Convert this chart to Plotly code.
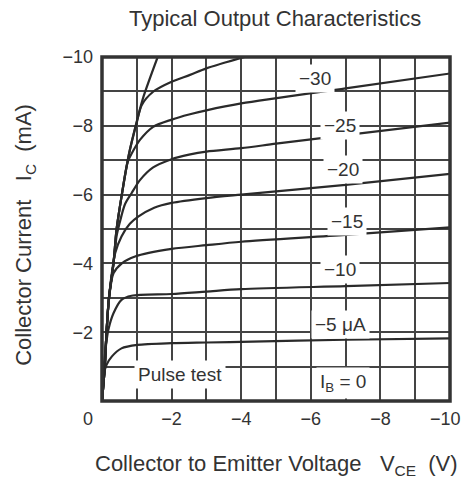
import plotly.graph_objects as go

# ---------------- data ----------------
# Collector-emitter voltage (V) and collector current (mA) per base current
steep_v = [0, -0.08, -0.13, -0.2, -0.33, -0.42, -0.57, -0.78, -1.0, -1.19, -1.6]
steep_i = [0, -1, -2, -3, -4, -5, -6, -7.2, -8.13, -8.84, -10]

ib35_v = [0, -0.08, -0.13, -0.2, -0.33, -0.42, -0.57, -0.78, -1.0, -1.14, -1.47, -2, -2.53, -3, -4.1]
ib35_i = [0, -1, -2, -3, -4, -5, -6, -7.2, -8.1, -8.6, -8.99, -9.28, -9.48, -9.67, -10]

ib30_v = [0, -0.08, -0.13, -0.2, -0.33, -0.42, -0.57, -0.74, -0.9, -1.09, -1.47, -2, -2.5, -3, -4, -7, -10]
ib30_i = [0, -1, -2, -3, -4, -5, -6, -6.95, -7.28, -7.59, -7.97, -8.18, -8.33, -8.45, -8.65, -9.09, -9.52]

ib25_v = [0, -0.08, -0.13, -0.2, -0.33, -0.42, -0.5, -0.66, -0.85, -1.09, -1.47, -2, -2.5, -3, -4, -5, -7, -10]
ib25_i = [0, -1, -2, -3, -4, -4.8, -5.15, -5.72, -6.04, -6.42, -6.79, -7.03, -7.16, -7.25, -7.35, -7.48, -7.73, -8.09]

ib20_v = [0, -0.08, -0.13, -0.2, -0.3, -0.38, -0.56, -0.8, -1.04, -1.5, -2, -3, -4, -7, -10]
ib20_i = [0, -1, -2, -3, -3.85, -4.3, -4.78, -5.15, -5.36, -5.62, -5.76, -5.9, -6.0, -6.28, -6.6]

ib15_v = [0, -0.08, -0.13, -0.2, -0.33, -0.57, -0.95, -2, -3, -4, -7, -10]
ib15_i = [0, -1, -2, -2.95, -3.71, -4.0, -4.2, -4.42, -4.53, -4.63, -4.83, -5.05]

ib10_v = [0, -0.05, -0.11, -0.18, -0.33, -0.56, -0.85, -2, -3, -4, -7, -10]
ib10_i = [0, -1.0, -1.58, -2.06, -2.55, -2.94, -3.06, -3.11, -3.18, -3.25, -3.34, -3.43]

ib5_v = [0, -0.05, -0.13, -0.28, -0.56, -1.02, -2, -3, -4, -7, -10]
ib5_i = [0, -0.75, -1.05, -1.29, -1.53, -1.63, -1.68, -1.70, -1.72, -1.78, -1.82]

# curve labels: text, V position, I position
label_text = ["\u221230", "\u221225", "\u221220", "\u221215", "\u221210", "\u22125 \u03bcA",
              "Pulse test", "I<sub>B</sub> = 0"]
label_v = [-6.12, -6.84, -6.93, -7.03, -6.84, -6.84, -2.24, -6.93]
label_i = [-9.38, -8.02, -6.74, -5.22, -3.81, -2.21, -0.76, -0.52]

major_x = [-2, -4, -6, -8]
major_y = [-2, -4, -6, -8, -10]
minor_x = [0, -1, -3, -5, -7, -9, -10]
minor_y = [0, -1, -3, -5, -7, -9]
x_tick_text = ["\u2212%d" % abs(v) for v in major_x]
y_tick_text = ["\u2212%d" % abs(v) for v in major_y]

# ---------------- figure ----------------
FONT = "Liberation Sans, Arial, sans-serif"
INK = "#2a2a2a"
GRID = "#444"
TXT = "#333"

fig = go.Figure()
for v, i in [(steep_v, steep_i), (ib35_v, ib35_i), (ib30_v, ib30_i), (ib25_v, ib25_i),
             (ib20_v, ib20_i), (ib15_v, ib15_i), (ib10_v, ib10_i), (ib5_v, ib5_i)]:
    fig.add_trace(go.Scatter(x=v, y=i, mode="lines",
                             line=dict(color=INK, width=2.2, shape="spline", smoothing=0.8),
                             hoverinfo="skip", showlegend=False))

annotations = []
for t, v, i in zip(label_text, label_v, label_i):
    annotations.append(dict(x=v, y=i, xref="x", yref="y", text=t, showarrow=False,
                            font=dict(family=FONT, size=19, color=TXT),
                            bgcolor="white", borderpad=3))

# corner "0" label and end "−10" label of the V axis
annotations.append(dict(x=0, y=0, xref="paper", yref="paper", text="0", showarrow=False,
                        xanchor="center", yanchor="top", xshift=-14, yshift=-6,
                        font=dict(family=FONT, size=18, color=TXT)))
annotations.append(dict(x=1, y=0, xref="paper", yref="paper", text="\u221210", showarrow=False,
                        xanchor="right", yanchor="top", xshift=13, yshift=-6,
                        font=dict(family=FONT, size=18, color=TXT)))
# titles
annotations.append(dict(x=0.497, y=1, xref="paper", yref="paper",
                        text="Typical Output Characteristics", showarrow=False,
                        xanchor="center", yanchor="middle", yshift=39,
                        font=dict(family=FONT, size=22, color=TXT)))
annotations.append(dict(x=0.5, y=0, xref="paper", yref="paper",
                        text="Collector to Emitter Voltage\u00a0\u00a0\u00a0V<sub>CE</sub>\u00a0\u00a0(V)",
                        showarrow=False, xanchor="center", yanchor="middle", yshift=-64,
                        font=dict(family=FONT, size=22, color=TXT)))
annotations.append(dict(x=0, y=0.483, xref="paper", yref="paper",
                        text="Collector Current\u00a0\u00a0\u00a0I<sub>C</sub>\u00a0\u00a0(mA)",
                        showarrow=False, textangle=-90, xanchor="center", yanchor="middle",
                        xshift=-77, font=dict(family=FONT, size=22, color=TXT)))

axis_common = dict(range=[0, -10], tickmode="array", automargin=False,
                   showgrid=True, gridcolor=GRID, gridwidth=1.6, zeroline=False, showline=False,
                   ticks="", ticklabelstandoff=5, ticklabeloverflow="allow",
                   tickfont=dict(family=FONT, size=18, color=TXT))

fig.update_layout(
    width=464, height=481,
    margin=dict(l=102, r=14, t=57, b=80, autoexpand=False),
    paper_bgcolor="white", plot_bgcolor="white",
    annotations=annotations,
    shapes=[dict(type="rect", xref="paper", yref="paper", x0=0, x1=1, y0=0, y1=1,
                 line=dict(color="#333", width=3.5), layer="above")],
    xaxis=dict(tickvals=major_x, ticktext=x_tick_text,
               minor=dict(tickmode="array", tickvals=minor_x, showgrid=True,
                          gridcolor=GRID, gridwidth=1.6, ticks=""), **axis_common),
    yaxis=dict(tickvals=major_y, ticktext=y_tick_text, ticklabelstandoff=8,
               minor=dict(tickmode="array", tickvals=minor_y, showgrid=True,
                          gridcolor=GRID, gridwidth=1.6, ticks=""),
               **{k: v for k, v in axis_common.items() if k != "ticklabelstandoff"}),
)

fig.write_html("out.html")
